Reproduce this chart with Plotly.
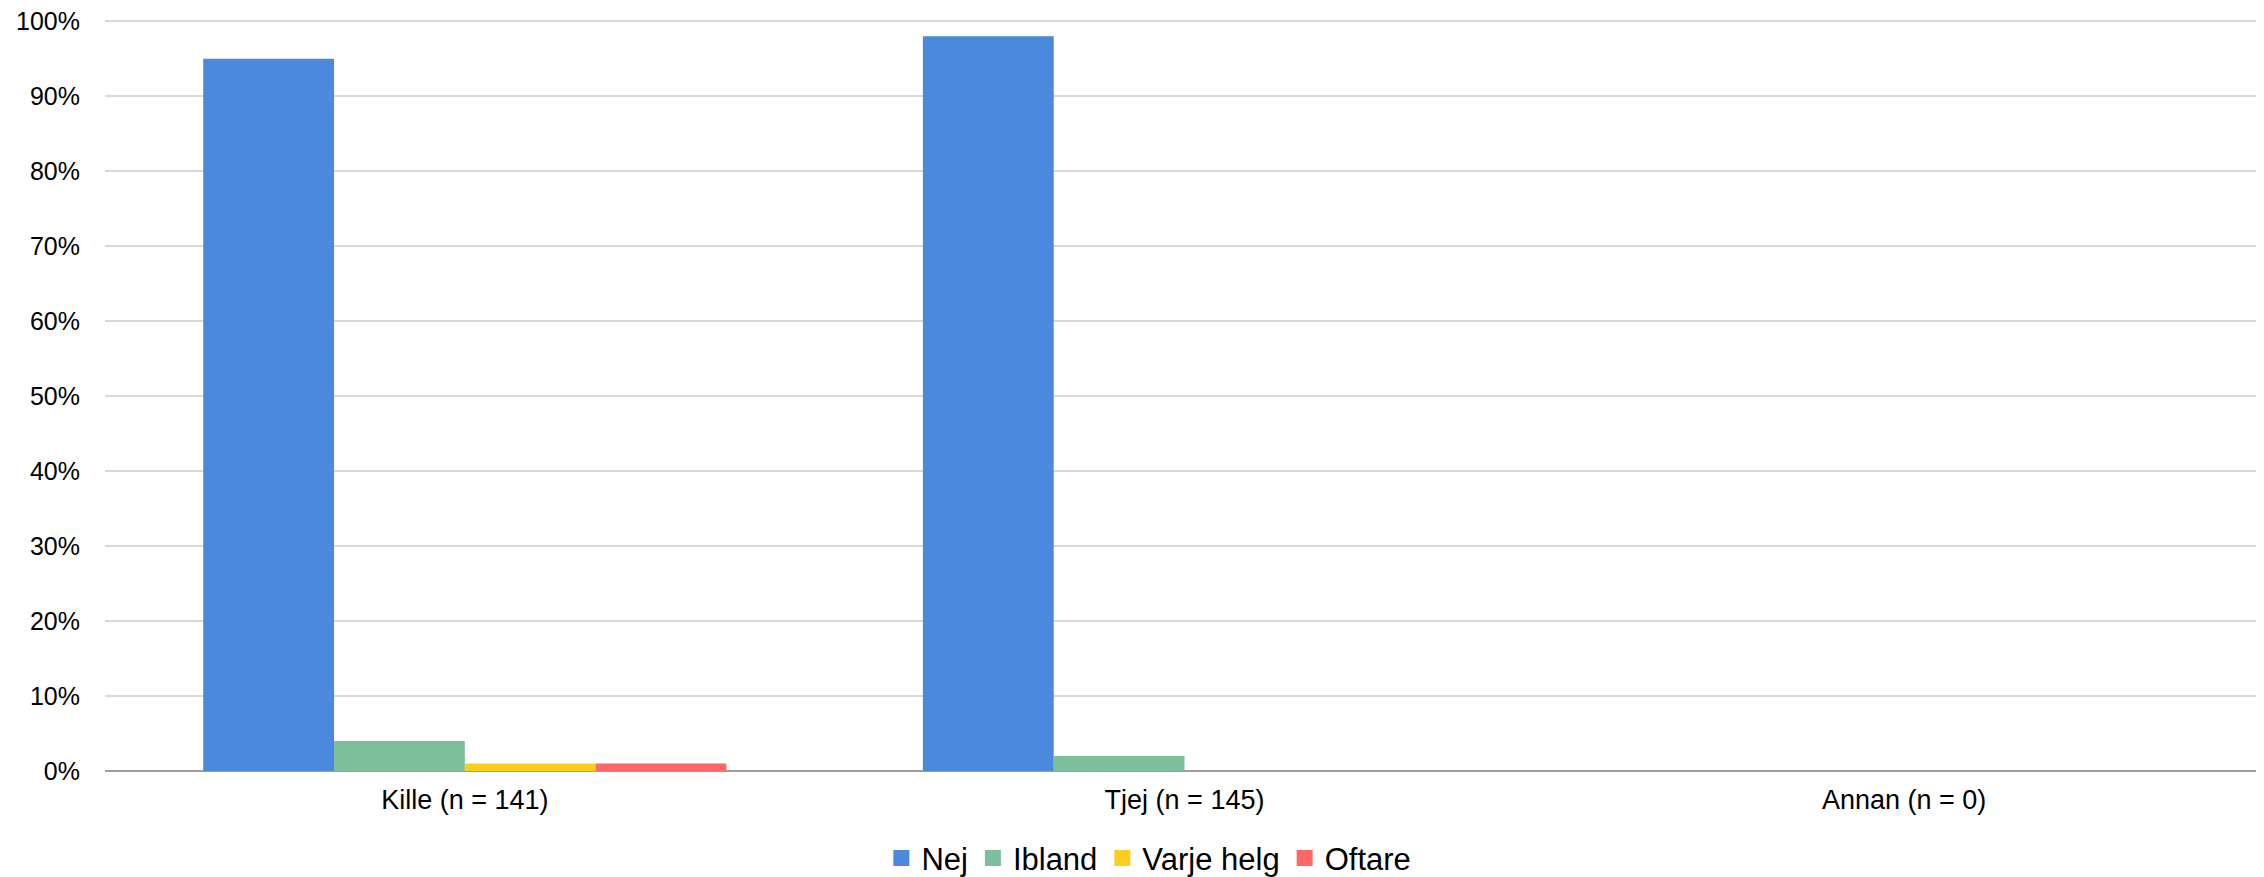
import plotly.graph_objects as go

categories = ["Kille (n = 141)", "Tjej (n = 145)", "Annan (n = 0)"]
series_names = ["Nej", "Ibland", "Varje helg", "Oftare"]
nej = [0.95, 0.98, 0.0]
ibland = [0.04, 0.02, 0.0]
varje_helg = [0.01, 0.0, 0.0]
oftare = [0.01, 0.0, 0.0]
colors = ["#4A89DC", "#7CBF9A", "#FCCD1F", "#FF6868"]
y_ticks = [0, 0.1, 0.2, 0.3, 0.4, 0.5, 0.6, 0.7, 0.8, 0.9, 1.0]

FONT = "Liberation Sans, Arial, sans-serif"

fig = go.Figure()
for name, vals, col in zip(series_names, [nej, ibland, varje_helg, oftare], colors):
    fig.add_trace(go.Bar(x=categories, y=vals, name=name, marker=dict(color=col, line=dict(width=0)),
                         showlegend=False, legendgroup=name))
for name, col in zip(series_names, colors):
    fig.add_trace(go.Scatter(x=[None], y=[None], mode="markers", name=name, legendgroup=name,
                             marker=dict(symbol="square", size=17, color=col), showlegend=True))

# page body has an 8px default margin; figure sized to fit the window
fig.update_layout(
    width=2256, height=869,
    margin=dict(l=97, r=0, t=11, b=106, autoexpand=False),
    paper_bgcolor="white", plot_bgcolor="white",
    barmode="group", bargap=0.273, bargroupgap=0,
    font=dict(family=FONT, color="#000000"),
    legend=dict(orientation="h", x=0.4835, xanchor="center", y=-0.116, yanchor="middle",
                font=dict(size=31, family=FONT), itemclick=False, tracegroupgap=0),
)
fig.update_xaxes(type="category", categoryorder="array", categoryarray=categories,
                 tickfont=dict(size=27), showgrid=False, showline=False, ticks="",
                 ticklabelstandoff=10, automargin=False)
fig.update_yaxes(range=[0, 1.003], tickvals=y_ticks, tickformat=".0%", tickfont=dict(size=25),
                 showgrid=True, gridcolor="#D9D9D9", gridwidth=1.5,
                 zeroline=True, zerolinecolor="#9E9E9E", zerolinewidth=2,
                 showline=False, ticks="", ticklabelstandoff=24, automargin=False,
                 ticklabeloverflow="allow")

fig.write_html("out.html")
